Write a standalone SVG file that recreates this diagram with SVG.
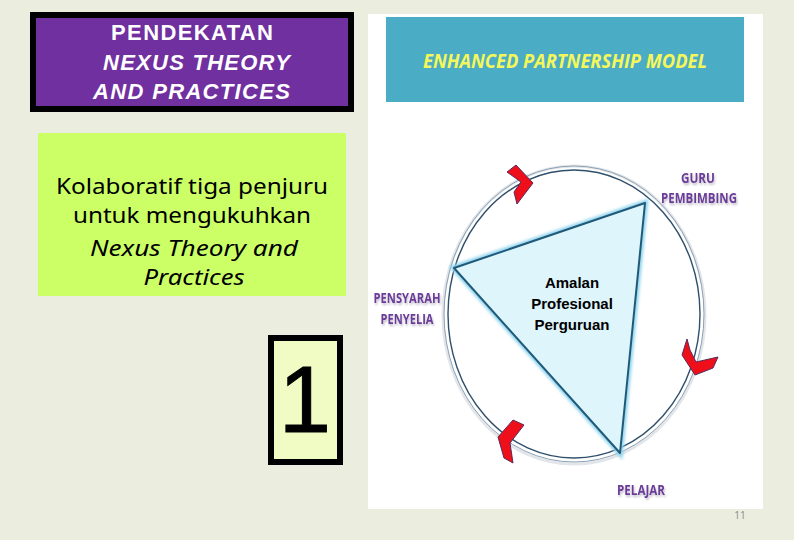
<svg xmlns="http://www.w3.org/2000/svg" width="794" height="540" viewBox="0 0 794 540">
<defs>
<style>
.ttl{font-family:"Liberation Sans",Arial,sans-serif;font-size:22px;font-weight:bold;fill:#ffffff}
.grn{font-family:"Noto Sans","Open Sans",sans-serif;font-size:22px;fill:#000;text-anchor:middle}
.role{font-family:"Open Sans","Liberation Sans",sans-serif;font-size:14.5px;font-weight:bold;fill:#6B3A98;text-anchor:middle}
.ctr{font-family:"Liberation Sans",Arial,sans-serif;font-size:15px;font-weight:bold;fill:#000;text-anchor:middle}
.chev{fill:#ee0f1b;stroke:#5a2b5a;stroke-width:1}
</style>
<filter id="glow" x="-10%" y="-10%" width="120%" height="120%">
<feGaussianBlur stdDeviation="1.5"/>
</filter>
<filter id="tshadow" x="-10%" y="-20%" width="130%" height="160%">
<feDropShadow dx="1" dy="2" stdDeviation="0.8" flood-color="#9a90a8" flood-opacity="0.6"/>
</filter>
</defs>
<rect x="0" y="0" width="794" height="540" fill="#ebeedf"/>

<g id="title-box">
<rect x="33" y="15" width="318" height="94" fill="#7030a0" stroke="#000" stroke-width="6"/>
<text class="ttl" x="111" y="40" textLength="162" lengthAdjust="spacing">PENDEKATAN</text>
<text class="ttl" x="103" y="70" font-style="italic" textLength="187" lengthAdjust="spacing">NEXUS THEORY</text>
<text class="ttl" x="93" y="99" font-style="italic" textLength="197" lengthAdjust="spacing">AND PRACTICES</text>
</g>

<g id="desc-box">
<rect x="38" y="133" width="308" height="163" fill="#ccff66"/>
<text class="grn" x="192" y="194" textLength="272" lengthAdjust="spacingAndGlyphs">Kolaboratif tiga penjuru</text>
<text class="grn" x="192" y="223" textLength="238" lengthAdjust="spacingAndGlyphs">untuk mengukuhkan</text>
<text class="grn" x="194" y="256" font-style="italic" textLength="208" lengthAdjust="spacingAndGlyphs">Nexus Theory and</text>
<text class="grn" x="194" y="285" font-style="italic" textLength="101" lengthAdjust="spacingAndGlyphs">Practices</text>
</g>

<g id="number-box">
<rect x="271" y="338" width="69" height="124" fill="#f1fcc4" stroke="#000" stroke-width="6"/>
<text x="305" y="432" font-family="Liberation Sans,Arial,sans-serif" font-size="94" fill="#000" stroke="#000" stroke-width="1" text-anchor="middle">1</text>
</g>

<g id="model-panel">
<rect x="368" y="14" width="395" height="495" fill="#ffffff"/>
<rect x="386" y="17" width="358" height="85" fill="#4bacc6"/>
<text x="565" y="68" font-family="Open Sans,Liberation Sans,sans-serif" font-size="20" font-weight="bold" font-style="italic" fill="#f4f75a" text-anchor="middle" textLength="284" lengthAdjust="spacingAndGlyphs">ENHANCED PARTNERSHIP MODEL</text>
</g>

<g id="connectors">
<ellipse cx="574" cy="315" rx="131" ry="149" fill="none" stroke="#e2e6ea" stroke-width="3"/>
<ellipse cx="574" cy="314" rx="130" ry="148" fill="none" stroke="#8ea2b3" stroke-width="1"/>
<ellipse cx="574" cy="314" rx="126" ry="144" fill="none" stroke="#2f4f6a" stroke-width="1.4"/>
<polygon class="chev" points="507,172 516,165 533,183 517,204 514,192 521,182"/>
<polygon class="chev" points="687,339 682,355 695,375 713,368 718,357 696,362 690,350"/>
<polygon class="chev" points="513,420 524,425 510,443 513,463 504,458 498,437"/>
</g>

<g id="triangle">
<polygon points="645,203 454,268 620,453" fill="none" stroke="#8fd3ec" stroke-width="6" filter="url(#glow)"/>
<polygon points="645,203 454,268 620,453" fill="#def5fb" stroke="#1f5a7a" stroke-width="2" stroke-linejoin="round"/>
<text class="ctr" x="572" y="288">Amalan</text>
<text class="ctr" x="572" y="309">Profesional</text>
<text class="ctr" x="572" y="330">Perguruan</text>
</g>

<g id="node-guru" filter="url(#tshadow)">
<text class="role" x="698" y="183" textLength="34" lengthAdjust="spacingAndGlyphs">GURU</text>
<text class="role" x="699" y="203" textLength="76" lengthAdjust="spacingAndGlyphs">PEMBIMBING</text>
</g>

<g id="node-pensyarah" filter="url(#tshadow)">
<text class="role" x="407" y="303" textLength="67" lengthAdjust="spacingAndGlyphs">PENSYARAH</text>
<text class="role" x="407" y="324" textLength="53" lengthAdjust="spacingAndGlyphs">PENYELIA</text>
</g>

<g id="node-pelajar" filter="url(#tshadow)">
<text class="role" x="641" y="495" textLength="48" lengthAdjust="spacingAndGlyphs">PELAJAR</text>
</g>

<text x="740" y="519" font-family="Open Sans,Liberation Sans,sans-serif" font-size="10" fill="#8a8a8a" text-anchor="middle">11</text>
</svg>
